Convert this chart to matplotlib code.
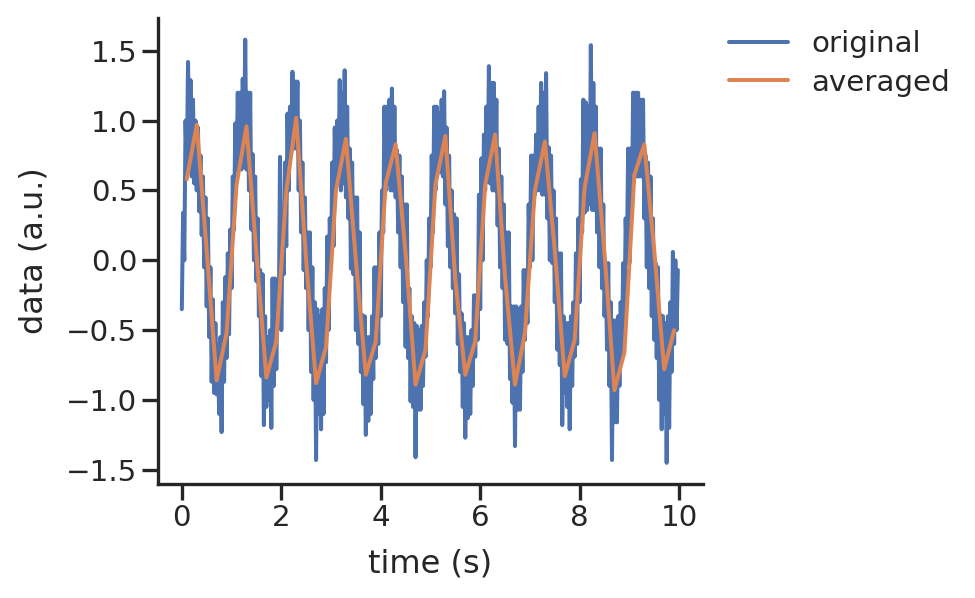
import numpy as np
import matplotlib
matplotlib.use("Agg")
import matplotlib.pyplot as plt
import seaborn as sns

# ---------------------------------------------------------
# data
# ---------------------------------------------------------
# the raw trace, read as lower / upper edge of the noisy band,
# one pair every 0.05 s (lower at t, upper at t + 0.025)
lower = [
    -0.35, 0.00, 0.63, 0.75, 0.60, 0.55, 0.50, 0.35, 0.18, -0.05,
    -0.33, -0.55, -0.87, -0.95, -0.96, -1.10, -1.23, -0.87, -0.70, -0.53,
    -0.20, 0.22, 0.65, 0.70, 0.65, 0.70, 0.65, 0.50, 0.22, 0.00,
    -0.15, -0.40, -0.83, -1.18, -1.05, -1.00, -1.20, -0.90, -0.78, -0.40,
    -0.50, -0.10, 0.10, 0.50, 0.77, 0.80, 0.80, 0.50, 0.20, -0.07,
    -0.20, -0.50, -0.80, -1.00, -1.43, -1.10, -1.21, -1.10, -0.73, -0.50,
    -0.05, 0.10, 0.53, 0.60, 0.50, 0.55, 0.45, 0.30, -0.06, -0.10,
    -0.50, -0.60, -0.80, -1.03, -1.25, -1.15, -1.10, -0.85, -0.70, -0.60,
    -0.40, 0.20, 0.50, 0.55, 0.50, 0.50, 0.45, 0.20, -0.05, -0.30,
    -0.62, -0.70, -1.01, -1.05, -1.41, -1.07, -1.07, -0.90, -0.69, -0.40,
    -0.05, 0.20, 0.50, 0.63, 0.63, 0.60, 0.40, 0.10, -0.05, -0.20,
    -0.38, -0.60, -0.80, -1.05, -1.27, -1.13, -1.10, -0.90, -0.69, -0.57,
    -0.35, 0.00, 0.50, 0.56, 0.55, 0.50, 0.50, 0.25, -0.05, -0.20,
    -0.57, -0.60, -0.85, -1.02, -1.33, -1.07, -1.07, -0.80, -0.57, -0.45,
    -0.05, 0.00, 0.47, 0.50, 0.50, 0.47, 0.47, 0.30, 0.00, -0.02,
    -0.30, -0.64, -0.75, -1.18, -0.95, -1.05, -1.21, -0.90, -0.69, -0.60,
    -0.30, 0.20, 0.34, 0.36, 0.40, 0.36, 0.36, 0.20, -0.05, -0.20,
    -0.40, -0.64, -0.90, -1.43, -1.16, -1.16, -0.90, -0.69, -0.50, -0.02,
    -0.02, 0.30, 0.60, 0.60, 0.60, 0.60, 0.30, -0.05, -0.20, -0.40,
    -0.57, -0.70, -1.00, -1.21, -1.10, -1.45, -1.20, -0.80, -0.60, -0.50,
]
upper = [
    0.34, 1.00, 1.42, 1.29, 1.15, 1.00, 0.95, 0.75, 0.60, 0.45,
    0.30, -0.05, -0.28, -0.45, -0.60, -0.55, -0.30, -0.12, 0.05, 0.22,
    0.60, 0.98, 1.20, 1.20, 1.30, 1.58, 1.20, 1.20, 0.76, 0.60,
    0.30, -0.07, -0.10, -0.40, -0.55, -0.50, -0.13, -0.13, -0.15, 0.74,
    0.20, 0.70, 1.05, 1.10, 1.35, 1.28, 1.28, 1.00, 0.70, 0.45,
    0.20, 0.20, -0.05, -0.30, -0.35, -0.40, -0.35, -0.20, 0.17, 0.30,
    0.70, 0.95, 1.00, 1.29, 1.20, 1.36, 1.10, 0.80, 0.70, 0.45,
    0.45, 0.20, -0.39, -0.40, -0.55, -0.55, -0.40, -0.05, -0.05, 0.20,
    0.50, 1.10, 1.10, 1.15, 1.23, 1.10, 0.79, 0.75, 0.60, 0.40,
    0.40, -0.20, -0.40, -0.45, -0.47, -0.50, -0.47, -0.30, 0.00, 0.30,
    0.75, 1.10, 1.10, 1.05, 1.15, 1.21, 0.95, 0.75, 0.50, 0.33,
    0.30, -0.10, -0.38, -0.45, -0.55, -0.55, -0.50, -0.25, -0.25, 0.47,
    0.73, 0.90, 1.10, 1.39, 1.27, 1.27, 1.15, 0.80, 0.60, 0.40,
    0.20, 0.20, -0.33, -0.33, -0.33, -0.35, -0.33, -0.07, -0.07, 0.40,
    0.75, 0.75, 0.90, 1.10, 1.27, 1.20, 1.34, 0.81, 0.75, 0.50,
    0.30, 0.05, 0.05, -0.40, -0.45, -0.45, -0.40, -0.30, 0.05, 0.30,
    0.58, 1.15, 1.13, 1.10, 1.54, 1.27, 1.10, 0.80, 0.80, 0.40,
    -0.02, -0.02, -0.30, -0.43, -0.43, -0.40, -0.30, -0.02, 0.30, 0.80,
    0.80, 1.20, 1.20, 1.20, 1.15, 1.15, 0.75, 0.70, 0.60, 0.30,
    -0.02, -0.05, -0.39, -0.40, -0.45, -0.40, -0.30, 0.06, 0.00, -0.07,
]

# block averages, one every 0.2 s
time_avg = np.arange(0.1, 10, 0.2)
averaged = [
    0.58, 0.97, 0.07, -0.86, -0.52,
    0.54, 0.96, 0.05, -0.84, -0.58,
    0.49, 1.02, 0.00, -0.88, -0.62,
    0.50, 0.87, 0.00, -0.82, -0.58,
    0.55, 0.83, 0.05, -0.89, -0.64,
    0.54, 0.89, -0.14, -0.82, -0.58,
    0.54, 0.90, -0.12, -0.89, -0.52,
    0.50, 0.85, 0.07, -0.83, -0.57,
    0.52, 0.91, 0.05, -0.93, -0.66,
    0.61, 0.83, 0.07, -0.78, -0.50,
]

# interleave the two edges into one trace at 0.025 s steps
original = np.column_stack([lower, upper]).ravel()
time = np.arange(len(original)) * 0.025

# ---------------------------------------------------------
# plot
# ---------------------------------------------------------
sns.set_theme(style="ticks", context="poster")

DPI = 96
fig = plt.figure(figsize=(975 / DPI, 598 / DPI), dpi=DPI)
ax = fig.add_axes([0.162, 0.191, 0.559, 0.779])

ax.plot(time, original, label="original")
ax.plot(time_avg, averaged, label="averaged")

ax.set_xlim(-0.48, 10.48)
ax.set_ylim(-1.60, 1.735)
ax.set_yticks([-1.5, -1.0, -0.5, 0.0, 0.5, 1.0, 1.5])
ax.set_xlabel("time (s)", labelpad=12)
ax.set_ylabel("data (a.u.)", labelpad=12)
sns.despine(ax=ax)

ax.legend(loc="upper left", bbox_to_anchor=(1.0, 1.03), frameon=False,
          labelspacing=0.35)

fig.savefig("out.png", dpi=DPI)
